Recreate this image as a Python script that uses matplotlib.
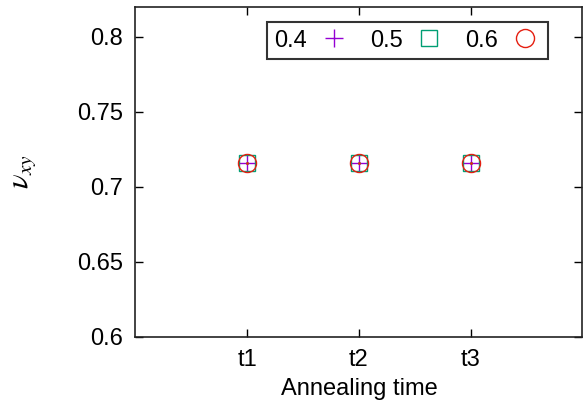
import matplotlib.pyplot as plt
from matplotlib.lines import Line2D

# --- DATA ---
times = ['t1', 't2', 't3']
x_pos = [1, 2, 3]
labels = ['0.4', '0.5', '0.6']
vals_04 = [0.716, 0.716, 0.716]
vals_05 = [0.716, 0.716, 0.716]
vals_06 = [0.716, 0.716, 0.716]

PURPLE = '#9400d3'
GREEN = '#009e73'
RED = '#e51e10'

plt.rcParams['font.family'] = ['Liberation Sans', 'DejaVu Sans']
plt.rcParams['mathtext.fontset'] = 'stix'

FS = 17

fig = plt.figure(figsize=(5.84, 4.15), dpi=100)
ax = fig.add_axes([0.232, 0.188, 0.7654, 0.796])

# plus
ax.plot(x_pos, vals_04, linestyle='none', marker='+', ms=13, mew=1.0, color=PURPLE)
# open square with centre dot
ax.plot(x_pos, vals_05, linestyle='none', marker='s', ms=12, mew=1.0,
        mfc='none', mec=GREEN)
ax.plot(x_pos, vals_05, linestyle='none', marker='.', ms=2, color=GREEN)
# open circle with centre dot
ax.plot(x_pos, vals_06, linestyle='none', marker='o', ms=13, mew=1.0,
        mfc='none', mec=RED)
ax.plot(x_pos, vals_06, linestyle='none', marker='.', ms=2, color=RED)

ax.set_xlim(0, 4)
ax.set_ylim(0.6, 0.82)
ax.set_xticks(x_pos)
ax.set_xticklabels(times)
ax.set_yticks([0.6, 0.65, 0.7, 0.75, 0.8])
ax.set_yticklabels(['0.6', '0.65', '0.7', '0.75', '0.8'])
ax.tick_params(direction='in', length=6, width=1, labelsize=FS,
               top=True, right=True, pad=9)
for s in ax.spines.values():
    s.set_linewidth(1.2)
    s.set_color('#222222')

ax.set_xlabel('Annealing time', fontsize=FS, labelpad=5)
ax.set_ylabel(r'$\nu_{xy}$', fontsize=22, labelpad=28, rotation=90)

handles = [
    Line2D([0], [0], linestyle='none', marker='+', ms=13, mew=1.0, color=PURPLE),
    Line2D([0], [0], linestyle='none', marker='s', ms=12, mew=1.0, mfc='none', mec=GREEN),
    Line2D([0], [0], linestyle='none', marker='o', ms=13, mew=1.0, mfc='none', mec=RED),
]
leg = ax.legend(handles, labels, loc='upper right', ncol=3, markerfirst=False,
                fontsize=FS, frameon=True, fancybox=False, edgecolor='black',
                bbox_to_anchor=(0.922, 0.952), borderpad=0.3, columnspacing=0.85,
                handletextpad=0.45, handlelength=1.35, borderaxespad=0)
leg.get_frame().set_linewidth(1.5)

fig.savefig('out.png', dpi=100)
